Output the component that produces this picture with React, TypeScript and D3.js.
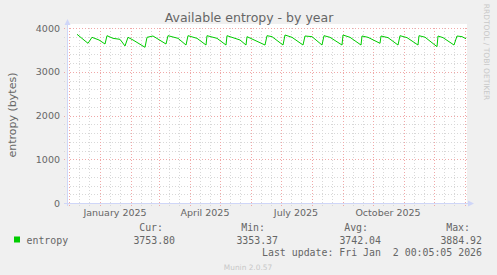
import React from "react";
import * as d3 from "d3";

// ---- data ----
const dates = [
  "2024-12-09", "2024-12-20", "2024-12-24", "2024-12-31", "2025-01-06", "2025-01-08",
  "2025-01-14", "2025-01-21", "2025-01-26", "2025-01-29", "2025-02-03", "2025-02-15",
  "2025-02-17", "2025-02-23", "2025-03-08", "2025-03-10", "2025-03-20", "2025-03-28",
  "2025-03-30", "2025-04-08", "2025-04-17", "2025-04-18", "2025-04-28", "2025-05-07",
  "2025-05-08", "2025-05-21", "2025-05-27", "2025-05-28", "2025-06-15", "2025-06-17",
  "2025-06-22", "2025-07-03", "2025-07-05", "2025-07-12", "2025-07-23", "2025-07-25",
  "2025-08-01", "2025-08-11", "2025-08-13", "2025-08-19", "2025-08-31", "2025-09-01",
  "2025-09-08", "2025-09-19", "2025-09-20", "2025-09-26", "2025-10-08", "2025-10-09",
  "2025-10-16", "2025-10-26", "2025-10-28", "2025-11-04", "2025-11-15", "2025-11-16",
  "2025-11-22", "2025-12-04", "2025-12-05", "2025-12-10", "2025-12-21", "2025-12-24",
  "2025-12-29", "2026-01-02",
];
const values = [
  3856, 3650, 3787, 3726, 3634, 3824,
  3764, 3741, 3589, 3787, 3726, 3559,
  3787, 3817, 3634, 3824, 3764, 3611,
  3824, 3764, 3611, 3824, 3764, 3611,
  3824, 3726, 3611, 3802, 3611, 3824,
  3802, 3611, 3840, 3787, 3611, 3817,
  3802, 3611, 3824, 3787, 3611, 3840,
  3787, 3611, 3817, 3787, 3650, 3817,
  3780, 3611, 3824, 3780, 3611, 3824,
  3790, 3573, 3817, 3780, 3611, 3817,
  3802, 3754,
];
const yTicks = [0, 1000, 2000, 3000, 4000];
const xLabelMonths = ["2025-01-01", "2025-04-01", "2025-07-01", "2025-10-01"];
const xLabels = ["January 2025", "April 2025", "July 2025", "October 2025"];
const seriesName = "entropy";
const legendHeaders = ["Cur:", "Min:", "Avg:", "Max:"];
const legendValues = ["3753.80", "3353.37", "3742.04", "3884.92"];
const title = "Available entropy - by year";
const yTitle = "entropy (bytes)";
const lastUpdate = "Last update: Fri Jan  2 00:05:05 2026";
const watermark = "RRDTOOL / TOBI OETIKER";
const footer = "Munin 2.0.57";

const W = 497;
const H = 275;
const parse = d3.timeParse("%Y-%m-%d");

export default function App() {
  const left = 67;
  const right = 467;
  const top = 28;
  const bottom = 203;
  const x = d3
    .scaleTime()
    .domain([new Date(2024, 10, 29), new Date(2026, 0, 3)])
    .range([left, right]);
  const y = d3.scaleLinear().domain([0, 4000]).range([bottom, top]);

  const pts = dates.map((d, i) => ({ d: parse(d) as Date, v: values[i] }));
  const line = d3
    .line<{ d: Date; v: number }>()
    .x((p) => x(p.d))
    .y((p) => y(p.v));

  const [d0, d1] = x.domain();
  const majorX = d3.timeMonth.range(d0, d1);
  const minorX = d3.timeDay
    .range(d0, d1)
    .filter((d) => d.getDate() === 11 || d.getDate() === 21);
  const minorY = d3.range(0, 4001, 200).filter((v) => v % 1000 !== 0);

  const font = "'DejaVu Sans', sans-serif";
  const mono = "'DejaVu Sans Mono', monospace";
  const txt = "#666666";
  const mgrid = "#f0a8a8";
  const grid = "#d8d8d8";
  const axis = "#cfd6f8";
  const r = (v: number) => Math.round(v) + 0.5;

  const legendCols = [163, 265, 368, 470];
  const valueCols = [175, 278, 381, 482];

  return (
    <svg
      width={W}
      height={H}
      style={{ position: "absolute", left: 0, top: 0, background: "#f0f0f0" }}
    >
      <rect x={0} y={0} width={W} height={H} fill="#f0f0f0" />
      <rect x={left} y={top - 4} width={right - left} height={bottom - top + 4} fill="#ffffff" />

      {/* minor grid */}
      {minorY.map((v) => (
        <line key={"my" + v} x1={left - 3} x2={right} y1={r(y(v))} y2={r(y(v))}
          stroke={grid} strokeDasharray="1,2" />
      ))}
      {minorX.map((d) => (
        <line key={"mx" + d.getTime()} x1={r(x(d))} x2={r(x(d))} y1={top} y2={bottom + 3}
          stroke={grid} strokeDasharray="1,2" />
      ))}
      {/* major grid */}
      {yTicks.map((v) => (
        <line key={"My" + v} x1={left - 3} x2={right} y1={r(y(v))} y2={r(y(v))}
          stroke={mgrid} strokeDasharray="1,2" />
      ))}
      {majorX.map((d) => (
        <line key={"Mx" + d.getTime()} x1={r(x(d))} x2={r(x(d))} y1={top} y2={bottom + 3}
          stroke={mgrid} strokeDasharray="1,2" />
      ))}

      {/* axes */}
      <line x1={left - 3} x2={right + 1} y1={r(bottom)} y2={r(bottom)} stroke={axis} />
      <line x1={r(left)} x2={r(left)} y1={bottom + 3} y2={top - 4} stroke={axis} />
      <path d={`M${right + 1},${bottom - 2.5} L${right + 7},${bottom + 0.5} L${right + 1},${bottom + 3.5} Z`} fill={axis} />
      <path d={`M${left - 2.5},${top - 3} L${left + 0.5},${top - 9} L${left + 3.5},${top - 3} Z`} fill={axis} />

      {/* data line */}
      <path d={line(pts) ?? ""} fill="none" stroke="#00cc00" strokeWidth={1} />

      {/* y tick labels */}
      {yTicks.map((v) => (
        <text key={"yl" + v} x={60} y={y(v) + 3.5} textAnchor="end" fontFamily={font}
          fontSize={9.5} fill={txt}>
          {v}
        </text>
      ))}
      {/* x labels */}
      {xLabelMonths.map((m, i) => {
        const d = parse(m) as Date;
        const c = x(d3.timeDay.offset(d, 15));
        return (
          <text key={"xl" + m} x={c} y={216} textAnchor="middle" fontFamily={font}
            fontSize={9.5} fill={txt}>
            {xLabels[i]}
          </text>
        );
      })}

      {/* title */}
      <text x={249} y={22} textAnchor="middle" fontFamily={font} fontSize={12.5} fill={txt}>
        {title}
      </text>
      {/* y title */}
      <text transform={`translate(16,115) rotate(-90)`} textAnchor="middle" fontFamily={font}
        fontSize={11} fill={txt}>
        {yTitle}
      </text>
      {/* watermark */}
      <text transform={`translate(484,52) rotate(90)`} textAnchor="middle" fontFamily={font}
        fontSize={7.5} fill="#c8c8c8">
        {watermark}
      </text>

      {/* legend */}
      <rect x={14} y={236.5} width={6} height={6} fill="#00cc00" />
      <text x={26.5} y={243.5} fontFamily={mono} fontSize={9.9} fill={txt}>
        {seriesName}
      </text>
      {legendHeaders.map((h, i) => (
        <text key={"lh" + h} x={legendCols[i]} y={230.5} textAnchor="end" fontFamily={mono}
          fontSize={9.9} fill={txt}>
          {h}
        </text>
      ))}
      {legendValues.map((v, i) => (
        <text key={"lv" + i} x={valueCols[i]} y={243.5} textAnchor="end" fontFamily={mono}
          fontSize={9.9} fill={txt}>
          {v}
        </text>
      ))}
      <text x={482} y={256} textAnchor="end" fontFamily={mono} fontSize={9.9} fill={txt}
        style={{ whiteSpace: "pre" }}>
        {lastUpdate}
      </text>
      <text x={248} y={270} textAnchor="middle" fontFamily={font} fontSize={7.4} fill="#c8c8c8">
        {footer}
      </text>
    </svg>
  );
}
